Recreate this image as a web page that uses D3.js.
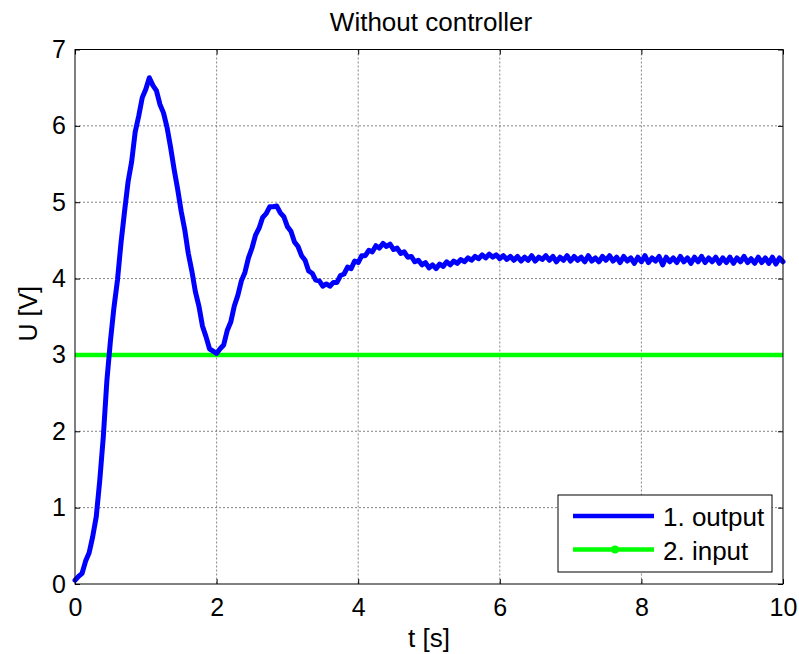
<!DOCTYPE html>
<html><head><meta charset="utf-8">
<script src="https://cdn.jsdelivr.net/npm/d3@7"></script>
<style>body{margin:0;background:#fff}svg{display:block}text{font-family:"Liberation Sans",Arial,sans-serif;fill:#000}</style>
</head><body>
<svg id="c" width="799" height="654"></svg>
<script>
// Data
const timeStep = 0.05; // seconds between samples
const outputValues = [
  0.05,0.10,0.14,0.30,0.41,0.62,0.88,1.36,1.93,2.66,3.18,3.62,3.98,4.47,4.88,5.27,5.53,5.92,6.13,6.37,
  6.48,6.63,6.53,6.46,6.28,6.17,5.98,5.72,5.43,5.17,4.88,4.64,4.33,4.10,3.83,3.64,3.38,3.24,3.08,3.05,
  3.02,3.08,3.13,3.32,3.43,3.64,3.78,3.97,4.08,4.27,4.40,4.57,4.66,4.80,4.85,4.94,4.94,4.95,4.86,4.81,
  4.68,4.62,4.48,4.42,4.30,4.24,4.10,4.07,3.98,3.97,3.90,3.93,3.90,3.95,3.95,4.04,4.06,4.15,4.13,4.23,
  4.21,4.30,4.30,4.37,4.35,4.43,4.40,4.46,4.42,4.45,4.38,4.40,4.33,4.35,4.28,4.29,4.22,4.24,4.18,4.21,
  4.14,4.18,4.13,4.19,4.16,4.22,4.18,4.23,4.20,4.25,4.22,4.27,4.24,4.29,4.26,4.31,4.27,4.32,4.28,4.31,
  4.26,4.30,4.25,4.29,4.24,4.29,4.23,4.28,4.24,4.30,4.23,4.28,4.25,4.30,4.24,4.29,4.22,4.28,4.24,4.30,
  4.23,4.29,4.24,4.28,4.22,4.30,4.23,4.27,4.22,4.29,4.24,4.30,4.23,4.28,4.21,4.29,4.23,4.27,4.20,4.28,
  4.22,4.30,4.21,4.27,4.23,4.29,4.18,4.28,4.22,4.27,4.21,4.29,4.22,4.27,4.20,4.28,4.22,4.29,4.21,4.27,
  4.22,4.28,4.20,4.27,4.21,4.28,4.20,4.27,4.22,4.29,4.21,4.26,4.20,4.28,4.21,4.27,4.20,4.28,4.19,4.27,
  4.22
];
const inputValue = [3, 3]; // constant input at t=0 and t=10
const inputTimes = [0, 10];
const xTicks = [0, 2, 4, 6, 8, 10];
const yTicks = [0, 1, 2, 3, 4, 5, 6, 7];
const seriesNames = ["1. output", "2. input"];
const titleText = "Without controller";
const xLabel = "t [s]";
const yLabel = "U [V]";

const svg = d3.select("#c");
const L = 75, R = 783, T = 49.5, B = 584;
const x = d3.scaleLinear().domain([0, 10]).range([L, R]);
const y = d3.scaleLinear().domain([0, 7]).range([B, T]);

// grid
const g = svg.append("g");
g.selectAll(".gx").data(xTicks.slice(1, -1)).enter().append("line")
  .attr("x1", d => x(d)).attr("x2", d => x(d)).attr("y1", T).attr("y2", B)
  .attr("stroke", "#666").attr("stroke-width", 0.8).attr("stroke-dasharray", "2,2");
g.selectAll(".gy").data(yTicks.slice(1, -1)).enter().append("line")
  .attr("y1", d => y(d)).attr("y2", d => y(d)).attr("x1", L).attr("x2", R)
  .attr("stroke", "#666").attr("stroke-width", 0.8).attr("stroke-dasharray", "2,2");

// axes (ticks inside)
const tl = 5;
svg.append("g").attr("transform", `translate(0,${B})`)
  .call(d3.axisBottom(x).tickValues(xTicks).tickSize(-tl).tickPadding(tl + 9).tickFormat(d3.format("d")))
  .call(s => { s.select(".domain").remove(); s.selectAll("text").attr("font-size", 25).attr("font-family", "Liberation Sans, Arial"); });
svg.append("g").attr("transform", `translate(0,${T})`)
  .call(d3.axisTop(x).tickValues(xTicks).tickSize(-tl).tickFormat(""))
  .call(s => s.select(".domain").remove());
svg.append("g").attr("transform", `translate(${L},0)`)
  .call(d3.axisLeft(y).tickValues(yTicks).tickSize(-tl).tickPadding(tl + 4).tickFormat(d3.format("d")))
  .call(s => { s.select(".domain").remove(); s.selectAll("text").attr("font-size", 25).attr("font-family", "Liberation Sans, Arial"); });
svg.append("g").attr("transform", `translate(${R},0)`)
  .call(d3.axisRight(y).tickValues(yTicks).tickSize(-tl).tickFormat(""))
  .call(s => s.select(".domain").remove());

// lines
const line = d3.line().x(d => x(d[0])).y(d => y(d[1]));
svg.append("path")
  .datum(inputTimes.map((t, i) => [t, inputValue[i]]))
  .attr("d", line).attr("fill", "none").attr("stroke", "#00ff00").attr("stroke-width", 4.5);
svg.append("path")
  .datum(outputValues.map((v, i) => [i * timeStep, v]))
  .attr("d", line).attr("fill", "none").attr("stroke", "#0000ff").attr("stroke-width", 5)
  .attr("stroke-linejoin", "round").attr("stroke-linecap", "round");

// box
svg.append("rect").attr("x", L).attr("y", T).attr("width", R - L).attr("height", B - T)
  .attr("fill", "none").attr("stroke", "#000").attr("stroke-width", 1);

// title & labels
svg.append("text").attr("x", 431).attr("y", 30.5).attr("text-anchor", "middle")
  .attr("font-size", 26).text(titleText);
svg.append("text").attr("x", (L + R) / 2).attr("y", 647).attr("text-anchor", "middle")
  .attr("font-size", 26).text(xLabel);
svg.append("text").attr("transform", `translate(37,${(T + B) / 2 - 3}) rotate(-90)`).attr("text-anchor", "middle")
  .attr("font-size", 25).text(yLabel);

// legend
const lg = svg.append("g");
lg.append("rect").attr("x", 558).attr("y", 495).attr("width", 214).attr("height", 77)
  .attr("fill", "#fff").attr("stroke", "#000").attr("stroke-width", 1);
const legColors = ["#0000ff", "#00ff00"];
const legY = [516, 549.5];
seriesNames.forEach((n, i) => {
  lg.append("line").attr("x1", 573).attr("x2", 654).attr("y1", legY[i]).attr("y2", legY[i])
    .attr("stroke", legColors[i]).attr("stroke-width", 4.5);
  if (i === 1) lg.append("circle").attr("cx", 615).attr("cy", legY[i]).attr("r", 4).attr("fill", legColors[i]);
  lg.append("text").attr("x", 663).attr("y", legY[i] + 10).attr("font-size", 26).text(n);
});
</script>
</body></html>
